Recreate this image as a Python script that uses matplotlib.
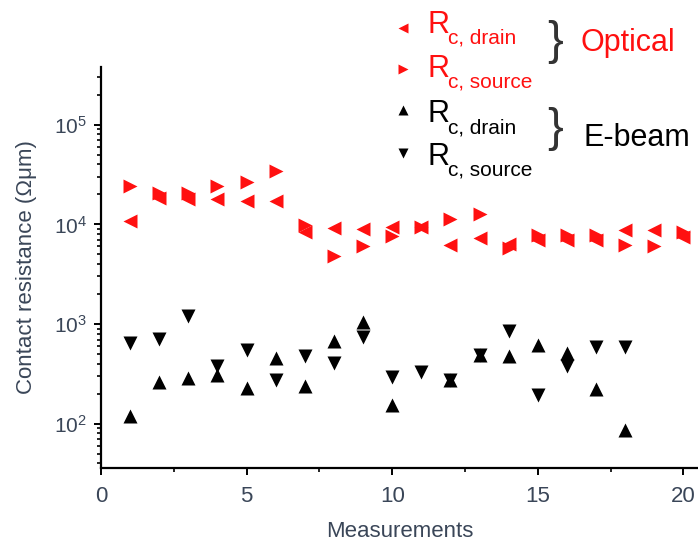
import numpy as np
import matplotlib
matplotlib.use('Agg')
import matplotlib.pyplot as plt
from matplotlib.ticker import MultipleLocator, LogLocator, NullFormatter
from matplotlib.lines import Line2D

plt.rcParams['font.family'] = ['Liberation Sans', 'DejaVu Sans']

# contact resistance per measurement (Ohm um)
meas = np.arange(1, 21)
opt_drain = [10700, 18500, 18000, 17800, 17300, 17000, 8300, 9200, 9000, 9500,
             9400, 6200, 7300, 6400, 7000, 7000, 7000, 8800, 8700, 7500]
opt_source = [24000, 20500, 20500, 24000, 26500, 34000, 9800, 4800, 6100, 7600,
              9400, 11400, 12600, 5800, 7800, 7800, 7800, 6200, 6000, 8300]

meas_eb = np.arange(1, 19)
eb_drain = [120, 260, 287, 310, 231, 456, 237, 684, 1045, 155,
            np.nan, 276, 484, 473, 620, 515, 223, 87]
eb_source = [645, 705, 1210, 380, 543, 272, 473, 406, 740, 294,
             327, 276, 484, 844, 195, 380, 588, 588]

red = '#ff1010'
txt_col = '#3a4658'

fig = plt.figure(figsize=(6.98, 5.48), dpi=100)
ax = fig.add_axes([0.1447, 0.146, 0.8553, 0.732])

ms = 9.5
ax.plot(meas, opt_drain, ls='none', marker='<', ms=ms, color=red, mec='none')
ax.plot(meas, opt_source, ls='none', marker='>', ms=ms, color=red, mec='none')
ax.plot(meas_eb, eb_drain, ls='none', marker='^', ms=ms, color='black', mec='none')
ax.plot(meas_eb, eb_source, ls='none', marker='v', ms=ms, color='black', mec='none')

ax.set_yscale('log')
ax.set_xlim(0, 20.5)
ax.set_ylim(36, 3.8e5)

for s in ['top', 'right']:
    ax.spines[s].set_visible(False)
for s in ['left', 'bottom']:
    ax.spines[s].set_linewidth(1.6)

ax.xaxis.set_major_locator(MultipleLocator(5))
ax.xaxis.set_minor_locator(MultipleLocator(2.5))
ax.yaxis.set_minor_locator(LogLocator(base=10, subs=np.arange(2, 10), numticks=20))
ax.yaxis.set_minor_formatter(NullFormatter())
ax.set_yticks([1e2, 1e3, 1e4, 1e5])

ax.tick_params(axis='both', which='major', direction='out', length=5, width=1.4,
               colors='black')
ax.tick_params(axis='both', which='minor', direction='out', length=3, width=1.2)
ax.tick_params(axis='x', labelsize=16, labelcolor=txt_col, pad=8)
ax.tick_params(axis='y', labelsize=15, labelcolor=txt_col, pad=5)

ax.set_xlabel('Measurements', fontsize=16, color=txt_col, labelpad=10)
ax.set_ylabel('Contact resistance (\u03a9\u03bcm)', fontsize=16, color=txt_col,
              labelpad=12)

# legend drawn by hand in figure pixels
W, H = 698.0, 548.0
entries = [('<', red, 'c, drain', 28, 33),
           ('>', red, 'c, source', 69, 77),
           ('^', 'black', 'c, drain', 110, 122),
           ('v', 'black', 'c, source', 153, 165)]
for mk, col, sub, ym, yb in entries:
    fig.add_artist(Line2D([403 / W], [1 - ym / H], ls='none', marker=mk, ms=7,
                          color=col, mec='none'))
    fig.text(428 / W, 1 - yb / H, 'R', fontsize=22, color=col, va='baseline')
    fig.text(448 / W, 1 - (yb + 11) / H, sub, fontsize=15, color=col,
             va='baseline')

for yc in [42, 129]:
    fig.text(555 / W, 1 - yc / H, '}', fontsize=34, color='#333333',
             va='center', ha='center')
fig.text(580 / W, 1 - 43 / H, 'Optical', fontsize=22, color=red, va='center')
fig.text(583 / W, 1 - 138 / H, 'E-beam', fontsize=22, color='black', va='center')

fig.savefig('out.png', dpi=100)
